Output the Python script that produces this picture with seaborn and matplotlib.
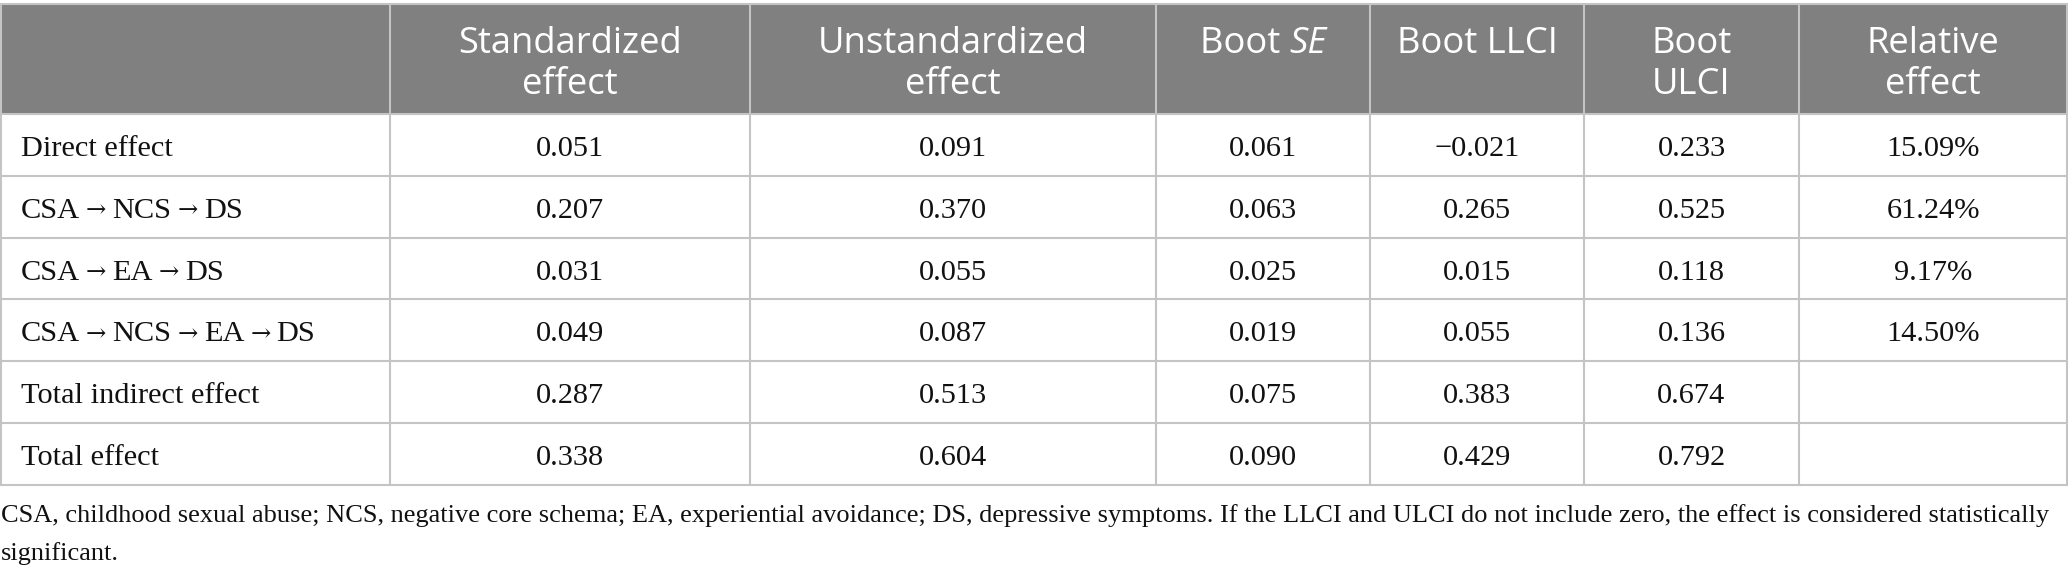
import matplotlib
matplotlib.use("Agg")
import matplotlib.pyplot as plt
import seaborn as sns

# ---------------- data ----------------
col_headers = [
    [""],
    ["Standardized", "effect"],
    ["Unstandardized", "effect"],
    ["Boot |SE"],          # text after "|" is italic
    ["Boot LLCI"],
    ["Boot", "ULCI"],
    ["Relative", "effect"],
]
row_labels = [
    "Direct effect",
    "CSA \u2192 NCS \u2192 DS",
    "CSA \u2192 EA \u2192 DS",
    "CSA \u2192 NCS \u2192 EA \u2192 DS",
    "Total indirect effect",
    "Total effect",
]
standardized = [0.051, 0.207, 0.031, 0.049, 0.287, 0.338]
unstandardized = [0.091, 0.370, 0.055, 0.087, 0.513, 0.604]
boot_se = [0.061, 0.063, 0.025, 0.019, 0.075, 0.090]
boot_llci = [-0.021, 0.265, 0.015, 0.055, 0.383, 0.429]
boot_ulci = [0.233, 0.525, 0.118, 0.136, 0.674, 0.792]
relative_effect = [15.09, 61.24, 9.17, 14.50, None, None]
footnote_lines = [
    "CSA, childhood sexual abuse; NCS, negative core schema; EA, experiential avoidance; DS, depressive symptoms. "
    "If the LLCI and ULCI do not include zero, the effect is considered statistically",
    "significant.",
]

# ---------------- layout ----------------
W, H = 2068, 575
col_edges = [1, 390, 750, 1156, 1370, 1584, 1799, 2067]
table_top = 4
header_bottom = 114
row_h = 61.8
header_bg = "#808080"
grid_col = "#c4c4c4"
text_col = "#111111"
lw = 1.5

sns.set_theme(style="white")
plt.rcParams['font.family'] = ['Liberation Serif', 'DejaVu Serif']

fig = plt.figure(figsize=(W / 100, H / 100), dpi=100)
ax = fig.add_axes([0, 0, 1, 1])
ax.set_xlim(0, W)
ax.set_ylim(H, 0)
ax.axis("off")
renderer = fig.canvas.get_renderer()

SERIF = ['Liberation Serif', 'DejaVu Serif']
SANS = ['Open Sans', 'DejaVu Sans']
ARROW_FONT = ['DejaVu Serif']


def text_width(txt, family, size, style="normal"):
    t = ax.text(0, 0, txt, fontsize=size, family=family, style=style)
    w = t.get_window_extent(renderer).width
    t.remove()
    return w


def fit_size(txt, family, target):
    return 20 * target / text_width(txt, family, 20)


hdr_fs = fit_size("Standardized", SANS, 223)
body_fs = fit_size(row_labels[0], SERIF, 152)
foot_fs = fit_size(footnote_lines[0], SERIF, 2043)
arrow_fs = body_fs * 0.8
arrow_gap = 6


def fmt(v):
    if v is None:
        return ""
    s = f"{abs(v):.3f}"
    return ("\u2212" + s) if v < 0 else s


def fmt_pct(v):
    return "" if v is None else f"{v:.2f}%"


def draw_label(x, y, label):
    parts = [p.strip() for p in label.split("\u2192")]
    for k, p in enumerate(parts):
        if k > 0:
            x += arrow_gap
            ax.text(x, y - 0.5, "\u2192", ha="left", va="baseline", color=text_col,
                    fontsize=arrow_fs, family=ARROW_FONT, zorder=4)
            x += text_width("\u2192", ARROW_FONT, arrow_fs) + arrow_gap
        ax.text(x, y, p, ha="left", va="baseline", color=text_col,
                fontsize=body_fs, family=SERIF, zorder=4)
        x += text_width(p, SERIF, body_fs)


columns = [row_labels,
           [fmt(v) for v in standardized],
           [fmt(v) for v in unstandardized],
           [fmt(v) for v in boot_se],
           [fmt(v) for v in boot_llci],
           [fmt(v) for v in boot_ulci],
           [fmt_pct(v) for v in relative_effect]]

n_rows = len(row_labels)
table_bottom = header_bottom + n_rows * row_h

# header background
ax.add_patch(plt.Rectangle((col_edges[0], table_top), col_edges[-1] - col_edges[0],
                           header_bottom - table_top, facecolor=header_bg, edgecolor="none", zorder=1))

# grid lines
ax.plot([col_edges[0], col_edges[-1]], [table_top, table_top], color=grid_col, lw=lw, zorder=3)
for i in range(n_rows + 1):
    y = header_bottom + i * row_h
    ax.plot([col_edges[0], col_edges[-1]], [y, y], color=grid_col, lw=lw, zorder=3)
for x in col_edges:
    ax.plot([x, x], [table_top, table_bottom], color=grid_col, lw=lw, zorder=3)

# header text
hdr_baselines = [53, 94]
for j, lines in enumerate(col_headers):
    cx = (col_edges[j] + col_edges[j + 1]) / 2
    for k, line in enumerate(lines):
        if not line:
            continue
        if "|" in line:
            a, b = line.split("|")
            wa = text_width(a.replace(" ", "\u00a0"), SANS, hdr_fs)
            wb = text_width(b, SANS, hdr_fs, style="italic")
            x0 = cx - (wa + wb) / 2
            ax.text(x0, hdr_baselines[k], a.replace(" ", "\u00a0"), ha="left", va="baseline",
                    color="white", fontsize=hdr_fs, family=SANS, zorder=4)
            ax.text(x0 + wa, hdr_baselines[k], b, ha="left", va="baseline", color="white",
                    fontsize=hdr_fs, family=SANS, style="italic", zorder=4)
        else:
            ax.text(cx, hdr_baselines[k], line, ha="center", va="baseline", color="white",
                    fontsize=hdr_fs, family=SANS, zorder=4)

# body text
for j, col in enumerate(columns):
    for i, txt in enumerate(col):
        yc = header_bottom + (i + 0.5) * row_h + 11
        if j == 0:
            draw_label(col_edges[0] + 20, yc, txt)
        else:
            cx = (col_edges[j] + col_edges[j + 1]) / 2
            ax.text(cx, yc, txt, ha="center", va="baseline", color=text_col,
                    fontsize=body_fs, family=SERIF, zorder=4)

# footnote
foot_baselines = [522, 560]
for k, line in enumerate(footnote_lines):
    ax.text(1, foot_baselines[k], line, ha="left", va="baseline", color=text_col,
            fontsize=foot_fs, family=SERIF)

fig.savefig("out.png", dpi=100)
